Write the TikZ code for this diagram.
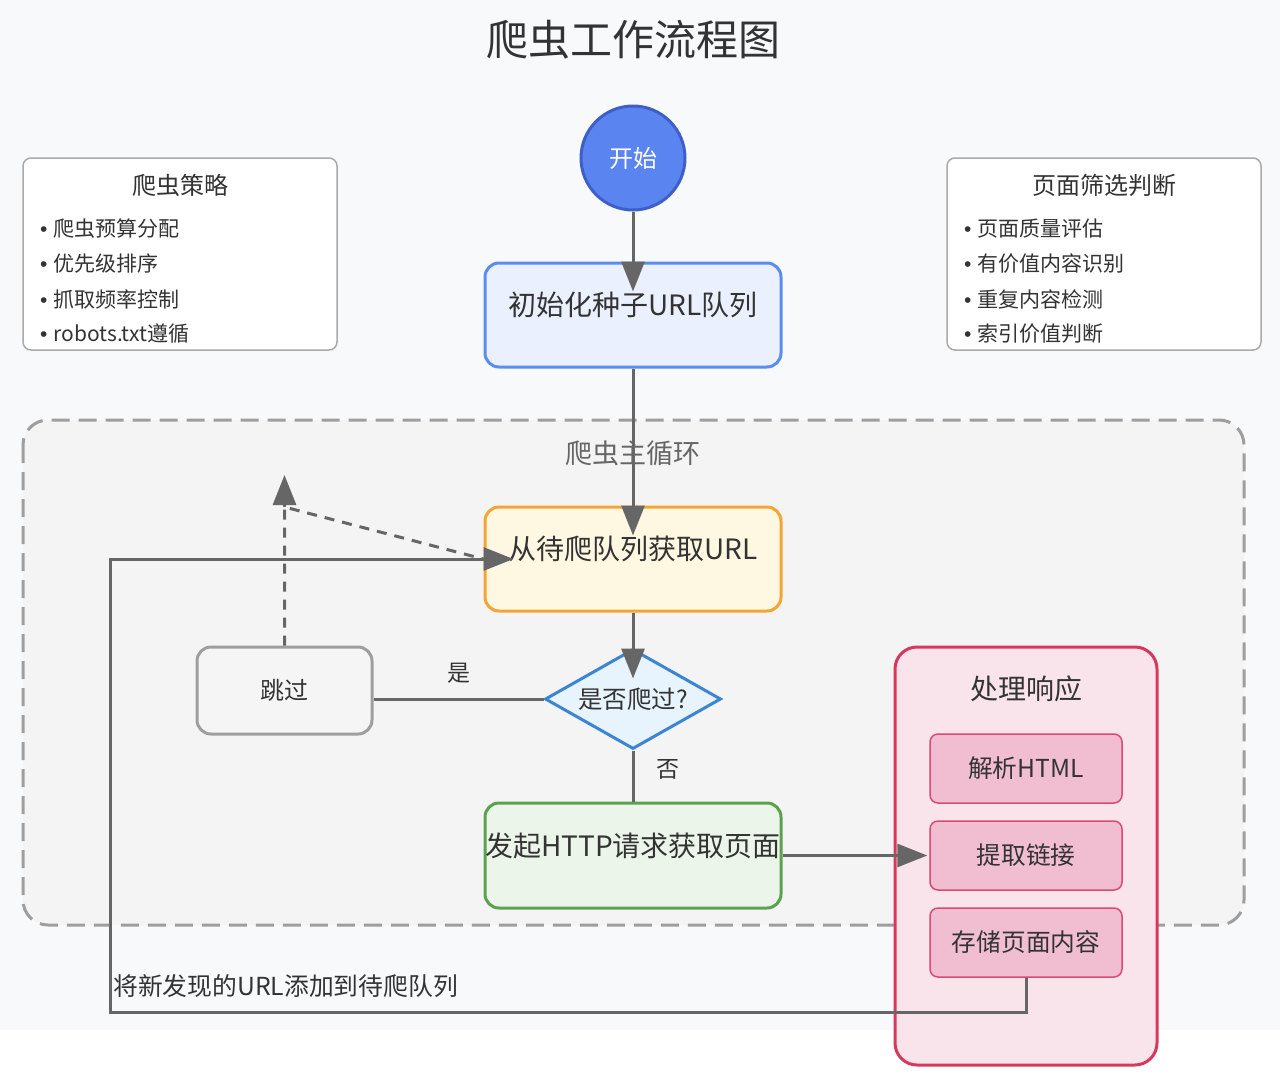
\documentclass[tikz,border=0pt]{standalone}
\usepackage{fontspec}
\setmainfont{Noto Sans CJK SC}
\newfontfamily\bulletfont{Liberation Sans}
\usetikzlibrary{shapes.geometric,arrows.meta}
\definecolor{bgl}{HTML}{F8F9FA}
\definecolor{regfill}{HTML}{F4F4F4}
\definecolor{regline}{HTML}{9E9E9E}
\definecolor{txt}{HTML}{333333}
\definecolor{ln}{HTML}{666666}
\definecolor{initf}{HTML}{EAF0FD}
\definecolor{initd}{HTML}{5B8DEF}
\definecolor{fetchf}{HTML}{FEF8E2}
\definecolor{fetchd}{HTML}{F5A533}
\definecolor{diaf}{HTML}{E7F3FD}
\definecolor{diad}{HTML}{3C85D1}
\definecolor{httpf}{HTML}{EBF5E9}
\definecolor{httpd}{HTML}{5BA24F}
\definecolor{skipf}{HTML}{F5F5F5}
\definecolor{skipd}{HTML}{9E9E9E}
\definecolor{procf}{HTML}{F9E4EB}
\definecolor{procd}{HTML}{D6385F}
\definecolor{subf}{HTML}{F1BED1}
\definecolor{subd}{HTML}{D94A74}
\definecolor{startf}{HTML}{5A84EF}
\definecolor{startd}{HTML}{3F5FC6}
\definecolor{infod}{HTML}{AAAAAA}
\newcommand{\fs}[1]{\fontsize{#1pt}{#1pt}\selectfont}
\newcommand{\bul}{{\bulletfont •}\hspace{6pt}}
\begin{document}
\begin{tikzpicture}[x=1pt,y=-1pt,
  mainbox/.style={draw, line width=3pt, rounded corners=14pt, minimum width=296pt, minimum height=104pt, inner sep=0pt},
  infobox/.style={draw=infod, fill=white, line width=1.5pt, rounded corners=8pt, minimum width=314pt, minimum height=192pt, inner sep=0pt},
  subbox/.style={draw=subd, fill=subf, line width=1.5pt, rounded corners=8pt, minimum width=192pt, minimum height=69pt, inner sep=0pt, text=txt, font=\fs{24.7}},
  boxtext/.style={text=txt, font=\fs{28}, inner sep=0pt},
  bullet/.style={anchor=west, text=txt, font=\fs{21}, inner sep=0pt},
  infotitle/.style={text=txt, font=\fs{24}, inner sep=0pt},
  flow/.style={draw=ln, line width=3pt, -{Triangle[length=30pt,width=23pt]}},
  plain/.style={draw=ln, line width=3pt},
  dashflow/.style={draw=ln, line width=3pt, dash pattern=on 10pt off 8pt},
  edgelabel/.style={text=txt, font=\fs{23}, inner sep=0pt}
]
\useasboundingbox (0,0) rectangle (1280,1090);
\fill[white] (0,0) rectangle (1280,1090);
\fill[bgl] (0,0) rectangle (1280,1030);

% main loop region
\draw[regline, fill=regfill, line width=3pt, dash pattern=on 18pt off 9pt, rounded corners=25pt] (23,420) rectangle (1244,925);
\node[text=ln, font=\fs{27}, inner sep=0pt] (looplabel) at (633,453) {爬虫主循环};

% title
\node[text=txt, font=\fs{42}, inner sep=0pt] (title) at (633,40) {爬虫工作流程图};

% info boxes
\node[infobox] (strat) at (180,254) {};
\node[infotitle] (stratT) at (180,185) {爬虫策略};
\node[bullet] (s1) at (40,229) {\bul 爬虫预算分配};
\node[bullet] (s2) at (40,264) {\bul 优先级排序};
\node[bullet] (s3) at (40,299) {\bul 抓取频率控制};
\node[bullet] (s4) at (40,334) {\bul robots.txt遵循};

\node[infobox] (filt) at (1104,254) {};
\node[infotitle] (filtT) at (1104,185) {页面筛选判断};
\node[bullet] (f1) at (964,229) {\bul 页面质量评估};
\node[bullet] (f2) at (964,264) {\bul 有价值内容识别};
\node[bullet] (f3) at (964,299) {\bul 重复内容检测};
\node[bullet] (f4) at (964,334) {\bul 索引价值判断};

% start
\node[circle, draw=startd, fill=startf, line width=3pt, minimum size=104pt, inner sep=0pt, text=white, font=\fs{24}] (start) at (633,158) {开始};

% main flow boxes
\node[mainbox, draw=initd, fill=initf] (init) at (633,315) {};
\node[boxtext] (initT) at (633,305) {初始化种子URL队列};

\node[mainbox, draw=fetchd, fill=fetchf] (fetch) at (633,559) {};
\node[boxtext] (fetchT) at (633,549) {从待爬队列获取URL};

\node[diamond, shape aspect=1.76, draw=diad, fill=diaf, line width=3pt, minimum width=176pt, minimum height=100pt, inner sep=0pt, text=txt, font=\fs{24.5}] (dia) at (633,699) {是否爬过?};

\node[draw=skipd, fill=skipf, line width=3pt, rounded corners=14pt, minimum width=175pt, minimum height=87pt, inner sep=0pt, text=txt, font=\fs{24}] (skip) at (284.5,690.5) {跳过};

\node[mainbox, draw=httpd, fill=httpf, minimum height=105pt] (http) at (633,855.5) {};
\node[boxtext] (httpT) at (633,846) {发起HTTP请求获取页面};

% processing
\node[draw=procd, fill=procf, line width=3pt, rounded corners=22pt, minimum width=262pt, minimum height=418pt, inner sep=0pt] (proc) at (1026,856) {};
\node[text=txt, font=\fs{28}, inner sep=0pt] (procT) at (1026,689) {处理响应};
\node[subbox] (parse) at (1026,768.5) {解析HTML};
\node[subbox] (extract) at (1026,855.5) {提取链接};
\node[subbox] (store) at (1026,942.5) {存储页面内容};

% connectors
\coordinate (skipTurn) at (284.5,507);
\coordinate (skipTip) at (284.5,475);
\coordinate (loopBL) at (110,1012);

\draw[flow] (start.south) -- ([yshift=-30pt]init.north);
\draw[flow] (init.south) -- ([yshift=-30pt]fetch.north);
\draw[flow] (fetch.south) -- ([yshift=-31pt]dia.north);
\draw[plain] (dia.south) -- (http.north);
\node[edgelabel] (nolab) at (668,769) {否};
\draw[plain] (dia.west) -- (dia.west -| skip.east);
\node[edgelabel] (yeslab) at (459,673) {是};
\draw[dashflow] (skip.north) -- (skipTurn) -- (fetch.west);
\draw[flow] (skipTurn) -- (skipTip);
\draw[flow] (http.east) -- ([xshift=-2pt]extract.west);
\draw[flow] (store.south) |- (loopBL) |- ([xshift=30pt]fetch.west);
\node[edgelabel, anchor=west, font=\fs{24.8}] (looptext) at (113,986) {将新发现的URL添加到待爬队列};
\end{tikzpicture}
\end{document}
